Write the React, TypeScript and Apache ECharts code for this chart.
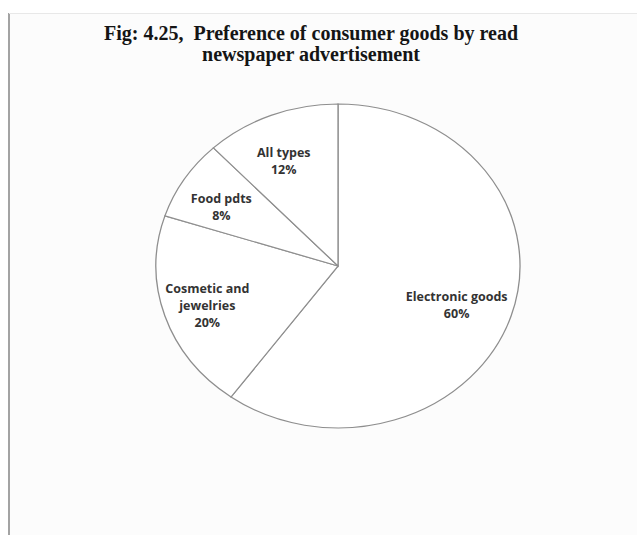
import React, { useEffect, useRef } from "react";
import * as echarts from "echarts";

const titleLines = [
  "Fig: 4.25,  Preference of consumer goods by read",
  "newspaper advertisement",
];
const categories = ["Electronic goods", "Cosmetic and\njewelries", "Food pdts", "All types"];
const values = [60, 20, 8, 12];

export default function App() {
  const ref = useRef<HTMLDivElement>(null);

  useEffect(() => {
    if (!ref.current) return;
    const chart = echarts.init(ref.current, null, { renderer: "svg" });
    const total = values.reduce((a, b) => a + b, 0);
    const cum: number[] = [];
    values.reduce((acc, v, i) => {
      cum[i] = acc;
      return acc + v;
    }, 0);

    const cx = 338;
    const cy = 266;
    const rx = 182;
    const ry = 162;
    const labelFrac = 0.72;
    const labelDx = -6;
    const labelDy = 3;

    chart.setOption({
      animation: false,
      backgroundColor: "#ffffff",
      title: {
        text: titleLines.join("\n"),
        left: 306,
        top: 17,
        textAlign: "center",
        textStyle: {
          fontFamily: "Liberation Serif",
          fontWeight: "bold",
          fontSize: 20,
          lineHeight: 21,
          color: "#151515",
        },
      },
      graphic: [
        {
          type: "rect",
          z: -10,
          shape: { x: 9, y: 13, width: 628, height: 522 },
          style: { fill: "#fcfcfc" },
          silent: true,
        },
        {
          type: "line",
          shape: { x1: 9, y1: 13, x2: 9, y2: 535 },
          style: { stroke: "#a3a3a3", lineWidth: 2 },
          silent: true,
        },
        {
          type: "line",
          shape: { x1: 9, y1: 13.5, x2: 637, y2: 13.5 },
          style: { stroke: "#e8e8e8", lineWidth: 1 },
          silent: true,
        },
      ],
      series: [
        {
          type: "custom",
          coordinateSystem: "none",
          data: values.map((v, i) => ({ value: v, name: categories[i] })),
          renderItem: (params: any, api: any) => {
            const i = params.dataIndex;
            const v = api.value(0);
            const start = (cum[i] / total) * Math.PI * 2 - Math.PI / 2;
            const end = ((cum[i] + v) / total) * Math.PI * 2 - Math.PI / 2;
            const mid = (start + end) / 2;
            const lx = cx + Math.cos(mid) * rx * labelFrac + labelDx;
            const ly = cy + Math.sin(mid) * ry * labelFrac + labelDy;
            const pct = Math.round((v / total) * 100) + "%";
            return {
              type: "group",
              children: [
                {
                  type: "sector",
                  shape: { cx, cy, r: rx, r0: 0, startAngle: start, endAngle: end, clockwise: true },
                  scaleY: ry / rx,
                  originX: cx,
                  originY: cy,
                  style: { fill: "#ffffff", stroke: "#8e8e8e", lineWidth: 1.3 },
                },
                {
                  type: "text",
                  style: {
                    text: categories[i] + "\n" + pct,
                    x: lx,
                    y: ly,
                    align: "center",
                    verticalAlign: "middle",
                    textAlign: "center",
                    textVerticalAlign: "middle",
                    fontFamily: "Open Sans",
                    fontWeight: "bold",
                    fontSize: 12.5,
                    lineHeight: 17,
                    fill: "#333333",
                  },
                },
              ],
            };
          },
        },
      ],
    });

    return () => chart.dispose();
  }, []);

  return (
    <div
      ref={ref}
      style={{ position: "absolute", left: 0, top: 0, width: 637, height: 535 }}
    />
  );
}
